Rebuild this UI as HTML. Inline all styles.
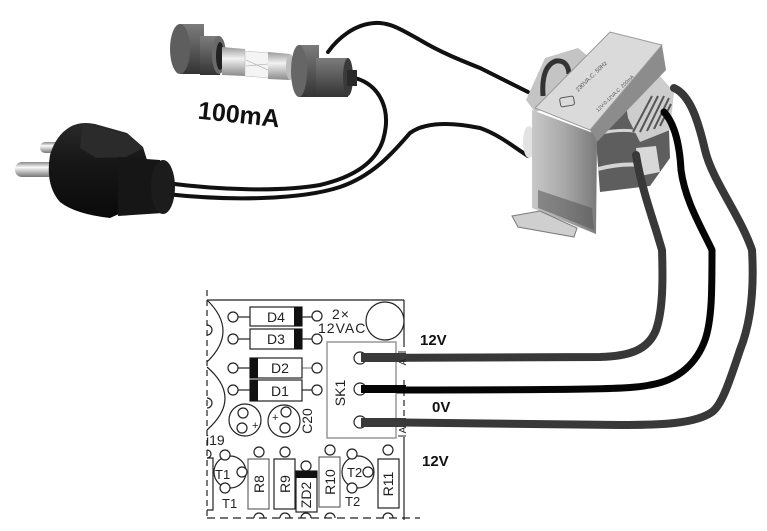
<!DOCTYPE html>
<html><head><meta charset="utf-8"><style>html,body{margin:0;padding:0;background:#fff;}svg{display:block}</style></head>
<body>
<svg width="767" height="531" viewBox="0 0 767 531" xmlns="http://www.w3.org/2000/svg" font-family="'Liberation Sans', sans-serif">
<defs>
  <linearGradient id="plugG" x1="0" y1="0" x2="0" y2="1">
    <stop offset="0" stop-color="#2a2a2a"/><stop offset="0.4" stop-color="#171717"/><stop offset="1" stop-color="#0a0a0a"/>
  </linearGradient>
  <linearGradient id="pinG" x1="0" y1="0" x2="0" y2="1">
    <stop offset="0" stop-color="#888"/><stop offset="0.35" stop-color="#fafafa"/><stop offset="1" stop-color="#777"/>
  </linearGradient>
  <linearGradient id="capG" x1="0" y1="0" x2="0" y2="1">
    <stop offset="0" stop-color="#7c7c7c"/><stop offset="0.45" stop-color="#5c5c5c"/><stop offset="1" stop-color="#333"/>
  </linearGradient>
  <linearGradient id="metG" x1="0" y1="0" x2="0" y2="1">
    <stop offset="0" stop-color="#9a9a9a"/><stop offset="0.4" stop-color="#f2f2f2"/><stop offset="1" stop-color="#8a8a8a"/>
  </linearGradient>
  <linearGradient id="frontG" x1="0" y1="0" x2="1" y2="0">
    <stop offset="0" stop-color="#c8c8c8"/><stop offset="0.5" stop-color="#a8a8a8"/><stop offset="1" stop-color="#7a7a7a"/>
  </linearGradient>
</defs>

<!-- primary wires -->
<g fill="none" stroke="#111" stroke-width="4" stroke-linecap="round">
  <path d="M328,52 C338,38 355,24 375,23 C390,22 402,30 420,40 C440,52 460,60 480,68 L528,92"/>
  <path d="M355,78 C380,85 392,110 383,140 C375,165 350,178 320,185 C280,192 220,190 166,183"/>
  <path d="M166,194 C230,201 300,200 340,187 C375,175 395,150 410,133 C425,122 450,122 480,128 C500,135 515,148 528,156"/>
</g>

<!-- plug -->
<rect x="40" y="142" width="22" height="11" rx="5" fill="url(#pinG)"/>
<rect x="15" y="162" width="42" height="15" rx="7" fill="url(#pinG)"/>
<path d="M70,127 Q80,121 95,124 L127,133 L143,147 L147,160 L150,200 L110,218 Q75,214 60,202 Q45,185 50,155 Q56,135 70,127 Z" fill="url(#plugG)"/>
<path d="M82,124 L127,134 L143,148 L126,157 L96,158 L80,148 Z" fill="#2b2b2b"/>
<path d="M118,157 L160,160 L163,213 L118,216 Z" fill="#161616"/>
<ellipse cx="163" cy="187" rx="12" ry="27" fill="#1c1c1c"/>

<!-- fuse left cap -->
<rect x="180" y="24" width="24" height="50" fill="url(#capG)"/>
<ellipse cx="180" cy="49" rx="10" ry="25" fill="#5e5e5e"/>
<rect x="200" y="36" width="20" height="39" fill="url(#capG)"/>
<ellipse cx="219" cy="55" rx="7" ry="19" fill="#6a6a6a"/>
<ellipse cx="220" cy="56" rx="4" ry="14" fill="#222"/>
<!-- glass fuse -->
<path d="M222,47 L245,49 L245,76 L222,75 Z" fill="url(#metG)"/>
<path d="M245,51 L269,53 L269,78 L245,76 Z" fill="#f4f4f4" stroke="#bbb" stroke-width="0.6"/>
<path d="M246,60 L268,70 M246,66 L268,64" stroke="#aaa" stroke-width="0.6"/>
<path d="M268,52 L290,54 L290,80 L268,79 Z" fill="url(#metG)"/>
<ellipse cx="290" cy="67" rx="4" ry="13" fill="#bdbdbd"/>
<!-- fuse right cap -->
<rect x="299" y="45" width="20" height="52" fill="url(#capG)"/>
<ellipse cx="299" cy="71" rx="8" ry="26" fill="#666"/>
<rect x="316" y="58" width="32" height="39" fill="url(#capG)"/>
<ellipse cx="348" cy="77" rx="5" ry="19" fill="#3a3a3a"/>
<rect x="347" y="70" width="10" height="16" fill="#2a2a2a"/>

<!-- 100mA -->
<text x="239" y="123" text-anchor="middle" font-size="25" font-weight="bold" fill="#111" transform="rotate(6 239 114)">100mA</text>

<!-- transformer -->
<path d="M526,100 L545,58 L578,48 L595,62 L565,104 L535,112 Z" fill="#c4c4c4"/>
<path d="M543,96 Q541,66 556,61 Q568,60 569,74" fill="none" stroke="#333" stroke-width="5"/>
<ellipse cx="529" cy="142" rx="6" ry="16" fill="#e2e2e2"/>
<path d="M596,140 L640,96 L668,100 L670,158 L650,186 L600,192 Z" fill="#5e5e5e"/>
<path d="M598,134 Q620,128 640,132" fill="none" stroke="#d4d4d4" stroke-width="3"/>
<path d="M598,169 Q625,162 648,166" fill="none" stroke="#d4d4d4" stroke-width="4"/>
<path d="M636,148 L656,146 L660,172 L640,176 Z" fill="#d8d8d8"/>
<path d="M624,92 L660,76 L674,92 L670,130 L640,142 L628,118 Z" fill="#cdcdcd"/>
<g stroke="#555" stroke-width="2">
  <line x1="633" y1="132" x2="652" y2="96"/><line x1="640" y1="132" x2="658" y2="96"/>
  <line x1="647" y1="131" x2="664" y2="96"/><line x1="654" y1="129" x2="669" y2="98"/>
  <line x1="660" y1="126" x2="671" y2="104"/>
</g>
<path d="M590,130 L662,45 L666,70 L597,142 Z" fill="#8c8c8c"/>
<path d="M535,108 L610,32 L662,45 L590,130 Z" fill="#dadada" stroke="#9a9a9a" stroke-width="1"/>
<text x="0" y="0" font-size="6" fill="#555" transform="translate(578,92) rotate(-44)">230VA.C. 50Hz</text>
<text x="0" y="0" font-size="5" fill="#555" transform="translate(598,112) rotate(-44)">12V-0-12VA.C. 200mA</text>
<rect x="560" y="97" width="14" height="9" rx="2" fill="none" stroke="#555" stroke-width="1" transform="rotate(-10 567 101)"/>
<path d="M532,110 L593,133 L597,142 L596,234 L532,208 Z" fill="url(#frontG)"/>
<path d="M538,190 L562,198 L592,208 L594,230 L538,208 Z" fill="#555" opacity="0.55"/>
<path d="M512,216 L540,211 L577,228 L574,237 L518,227 Z" fill="#cfcfcf" stroke="#7a7a7a" stroke-width="1"/>

<!-- secondary wires -->
<g fill="none" stroke-linecap="round" stroke-linejoin="round">
  <path d="M636,155 C640,180 648,205 656,230 L662,250 C663,280 663,310 656,330 C648,350 630,356 600,357 L362,358" stroke="#383838" stroke-width="8"/>
  <path d="M664,112 C676,125 680,150 681,170 C685,200 700,225 712,250 C712,290 712,320 705,340 C697,362 680,380 650,385 C630,389 600,390 362,390" stroke="#050505" stroke-width="7"/>
  <path d="M674,88 C690,95 698,120 705,150 C712,180 740,215 752,250 C755,300 748,330 740,350 C730,380 722,405 712,412 C695,424 660,425 620,425 L362,422" stroke="#383838" stroke-width="8"/>
</g>

<!-- voltage labels -->
<g font-size="15" font-weight="bold" fill="#111">
  <text x="420" y="345">12V</text>
  <text x="432" y="412">0V</text>
  <text x="422" y="466">12V</text>
</g>

<!-- PCB -->
<g fill="none" stroke="#222" stroke-width="1.2">
  <line x1="207" y1="290" x2="207" y2="520" stroke-dasharray="6,4"/>
  <line x1="207" y1="300" x2="404" y2="300"/>
  <line x1="404" y1="300" x2="404" y2="347"/>
  <line x1="404" y1="380" x2="404" y2="418" stroke-dasharray="6,4"/>
  <line x1="404" y1="437" x2="404" y2="520"/>
  <line x1="207" y1="518" x2="420" y2="518" stroke-dasharray="8,5"/>
  <path d="M207,300 Q239,331 207,362"/>
  <path d="M207,367 Q243,398 207,430"/>
  <path d="M207,325 A5 5 0 0 1 207,335"/>
  <path d="M207,398 A5 5 0 0 1 207,408"/>
  <path d="M207,450 A4 4 0 0 1 207,458"/>
  <path d="M207,458 L213,458 L213,510 L207,510"/>
  <path d="M254,518 A5 5 0 0 1 264,518"/>
  <path d="M280,518 A5 5 0 0 1 290,518"/>
  <path d="M301,518 A5 5 0 0 1 311,518"/>
  <path d="M325,518 A5 5 0 0 1 335,518"/>
  <path d="M383,518 A5 5 0 0 1 393,518"/>
  <line x1="238" y1="317" x2="250" y2="317"/><line x1="302" y1="317" x2="312" y2="317"/>
  <line x1="238" y1="339" x2="250" y2="339"/><line x1="302" y1="339" x2="312" y2="339"/>
  <line x1="238" y1="368" x2="250" y2="368"/><line x1="302" y1="368" x2="312" y2="368" stroke="#888"/>
  <line x1="238" y1="390" x2="250" y2="390"/><line x1="302" y1="390" x2="312" y2="390"/>
</g>
<g fill="#fff" stroke="#222" stroke-width="1.2">
  <rect x="250" y="307" width="52" height="19"/>
  <rect x="250" y="329" width="52" height="20"/>
  <rect x="250" y="358" width="52" height="20"/>
  <rect x="250" y="380" width="52" height="21"/>
  <circle cx="233" cy="317" r="5"/><circle cx="317" cy="316" r="5"/>
  <circle cx="233" cy="339" r="5"/><circle cx="317" cy="339" r="5"/>
  <circle cx="233" cy="368" r="5"/><circle cx="317" cy="368" r="5"/>
  <circle cx="233" cy="390" r="5"/><circle cx="317" cy="390" r="5"/>
  <circle cx="385" cy="321" r="19"/>
  <rect x="327" y="342" width="69" height="96" stroke="#999" stroke-width="1.5"/>
  <circle cx="360" cy="358" r="6"/><circle cx="360" cy="389" r="6"/><circle cx="360" cy="422" r="6"/>
  <circle cx="245" cy="420" r="16"/><circle cx="243" cy="413" r="5"/><circle cx="242" cy="428" r="5"/>
  <circle cx="284" cy="421" r="16"/><circle cx="286" cy="412" r="5"/><circle cx="285" cy="428" r="5"/>
  <circle cx="230" cy="472" r="16"/>
  <circle cx="358" cy="472" r="16"/>
  <rect x="248" y="459" width="21" height="50" stroke="#666"/>
  <rect x="274" y="459" width="21" height="50"/>
  <rect x="296" y="471" width="21" height="41"/>
  <rect x="319" y="457" width="21" height="50" stroke="#666"/>
  <rect x="378" y="459" width="21" height="49"/>
  <circle cx="225" cy="455" r="5"/><circle cx="242" cy="472" r="5"/><circle cx="225" cy="488" r="5"/>
  <circle cx="352" cy="454" r="5"/><circle cx="368" cy="472" r="5"/><circle cx="352" cy="488" r="5"/>
  <circle cx="259" cy="452" r="5"/><circle cx="285" cy="452" r="5"/><circle cx="306" cy="466" r="5"/>
  <circle cx="330" cy="450" r="5"/><circle cx="388" cy="450" r="5"/>
</g>
<g fill="#111">
  <rect x="294" y="307" width="8" height="19"/>
  <rect x="294" y="329" width="8" height="20"/>
  <rect x="250" y="358" width="8" height="20"/>
  <rect x="250" y="380" width="8" height="21"/>
  <rect x="296" y="471" width="21" height="7"/>
</g>
<rect x="361" y="353" width="45" height="9" fill="#3a3a3a"/>
<rect x="361" y="385" width="45" height="8" fill="#050505"/>
<rect x="361" y="418" width="45" height="9" fill="#3a3a3a"/>

<!-- PCB text -->
<g font-size="14" fill="#222">
  <text x="276" y="322" text-anchor="middle">D4</text>
  <text x="276" y="344" text-anchor="middle">D3</text>
  <text x="280" y="373" text-anchor="middle">D2</text>
  <text x="280" y="396" text-anchor="middle">D1</text>
  <text x="332" y="319" font-size="14" letter-spacing="1">2×</text>
  <text x="318" y="333" font-size="14" letter-spacing="1">12VAC</text>
  <text x="0" y="0" text-anchor="middle" transform="translate(345,393) rotate(-90)">SK1</text>
  <text x="0" y="0" text-anchor="middle" transform="translate(312,421) rotate(-90)">C20</text>
  <text x="206" y="445" font-size="14">i19</text>
  <text x="215" y="479" font-size="13">T1</text>
  <text x="222" y="508" font-size="13">T1</text>
  <text x="347" y="477" font-size="13">T2</text>
  <text x="345" y="506" font-size="13">T2</text>
  <text x="0" y="0" text-anchor="middle" transform="translate(264,484) rotate(-90)">R8</text>
  <text x="0" y="0" text-anchor="middle" transform="translate(290,484) rotate(-90)">R9</text>
  <text x="0" y="0" text-anchor="middle" transform="translate(311,495) rotate(-90)">ZD2</text>
  <text x="0" y="0" text-anchor="middle" transform="translate(335,482) rotate(-90)">R10</text>
  <text x="0" y="0" text-anchor="middle" transform="translate(393,484) rotate(-90)">R11</text>
  <text x="252" y="429" font-size="11">+</text>
  <text x="272" y="421" font-size="11">+</text>
  <text x="0" y="0" font-size="10" text-anchor="middle" transform="translate(406,362) rotate(-90)">A</text>
  <text x="0" y="0" font-size="10" text-anchor="middle" transform="translate(406,430) rotate(-90)">A</text>
</g>
<g stroke="#222" stroke-width="1">
  <line x1="398" y1="352" x2="406" y2="352"/>
  <line x1="398" y1="436" x2="406" y2="436"/>
</g>
</svg>
</body></html>
